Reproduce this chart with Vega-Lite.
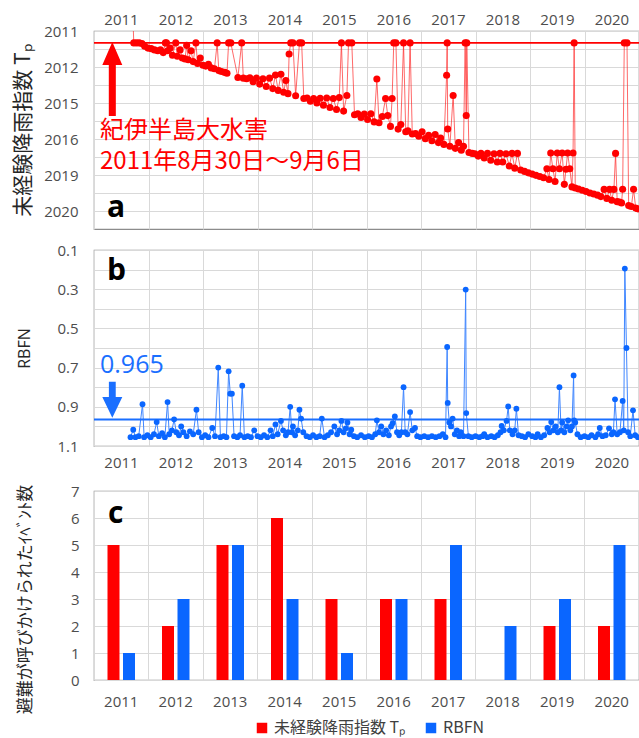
{
  "$schema": "https://vega.github.io/schema/vega-lite/v6.json",
  "background": "white",
  "padding": {"left": 12, "top": 11, "right": 0, "bottom": 8},
  "spacing": 12,
  "config": {
    "font": "Open Sans",
    "view": {"stroke": "#8c8c8c", "strokeWidth": 1.2},
    "axis": {
      "labelFont": "Open Sans",
      "labelFontSize": 15,
      "labelColor": "#4d4d4d",
      "titleFont": "Noto Sans CJK JP",
      "titleFontWeight": "normal",
      "titleColor": "#262626",
      "gridColor": "#d9d9d9",
      "gridWidth": 1,
      "ticks": false,
      "domain": false,
      "labelOverlap": false
    }
  },
  "datasets": {
    "tp": [
      {"t":2011.72,"tp":2010.80},{"t":2011.73,"tp":2011.66},{"t":2011.78,"tp":2011.66},{"t":2011.83,"tp":2011.66},{"t":2011.88,"tp":2011.70},
      {"t":2011.93,"tp":2011.85},{"t":2011.99,"tp":2011.95},{"t":2012.05,"tp":2011.98},{"t":2012.11,"tp":2012.05},{"t":2012.17,"tp":2012.10},
      {"t":2012.22,"tp":2012.05},{"t":2012.27,"tp":2012.20},{"t":2012.31,"tp":2011.66},{"t":2012.33,"tp":2011.66},{"t":2012.35,"tp":2012.10},
      {"t":2012.40,"tp":2011.95},{"t":2012.44,"tp":2012.35},{"t":2012.50,"tp":2011.66},{"t":2012.53,"tp":2012.40},{"t":2012.58,"tp":2012.05},
      {"t":2012.62,"tp":2012.50},{"t":2012.67,"tp":2012.55},{"t":2012.70,"tp":2011.80},{"t":2012.73,"tp":2012.60},{"t":2012.78,"tp":2012.10},
      {"t":2012.82,"tp":2012.70},{"t":2012.87,"tp":2011.66},{"t":2012.90,"tp":2012.80},{"t":2012.95,"tp":2012.50},{"t":2013.00,"tp":2012.90},
      {"t":2013.05,"tp":2012.95},{"t":2013.10,"tp":2012.85},{"t":2013.15,"tp":2013.05},{"t":2013.21,"tp":2013.10},{"t":2013.26,"tp":2011.66},
      {"t":2013.29,"tp":2013.20},{"t":2013.34,"tp":2013.25},{"t":2013.40,"tp":2013.30},{"t":2013.44,"tp":2013.35},{"t":2013.47,"tp":2011.66},
      {"t":2013.51,"tp":2011.66},{"t":2013.64,"tp":2013.58},{"t":2013.71,"tp":2011.66},{"t":2013.74,"tp":2013.62},{"t":2013.80,"tp":2013.65},
      {"t":2013.86,"tp":2013.60},{"t":2013.92,"tp":2013.82},{"t":2013.98,"tp":2013.62},{"t":2014.04,"tp":2013.95},{"t":2014.10,"tp":2013.65},
      {"t":2014.16,"tp":2014.08},{"t":2014.22,"tp":2013.62},{"t":2014.28,"tp":2014.20},{"t":2014.33,"tp":2013.45},{"t":2014.38,"tp":2014.30},
      {"t":2014.43,"tp":2013.40},{"t":2014.48,"tp":2014.40},{"t":2014.52,"tp":2013.75},{"t":2014.56,"tp":2014.48},{"t":2014.58,"tp":2012.28},
      {"t":2014.61,"tp":2011.66},{"t":2014.65,"tp":2011.66},{"t":2014.70,"tp":2014.60},{"t":2014.77,"tp":2011.66},{"t":2014.81,"tp":2011.66},
      {"t":2014.85,"tp":2014.75},{"t":2014.91,"tp":2014.72},{"t":2014.97,"tp":2014.90},{"t":2015.03,"tp":2014.75},{"t":2015.09,"tp":2015.00},
      {"t":2015.15,"tp":2014.74},{"t":2015.21,"tp":2015.12},{"t":2015.27,"tp":2014.72},{"t":2015.33,"tp":2015.25},{"t":2015.39,"tp":2014.75},
      {"t":2015.45,"tp":2015.36},{"t":2015.50,"tp":2014.70},{"t":2015.54,"tp":2011.66},{"t":2015.58,"tp":2015.45},{"t":2015.64,"tp":2014.58},
      {"t":2015.67,"tp":2011.66},{"t":2015.73,"tp":2011.66},{"t":2015.78,"tp":2015.65},{"t":2015.84,"tp":2015.60},{"t":2015.90,"tp":2015.80},
      {"t":2015.96,"tp":2015.62},{"t":2016.02,"tp":2015.92},{"t":2016.08,"tp":2015.60},{"t":2016.14,"tp":2016.05},{"t":2016.19,"tp":2013.67},
      {"t":2016.23,"tp":2016.10},{"t":2016.29,"tp":2015.75},{"t":2016.35,"tp":2014.75},{"t":2016.39,"tp":2015.70},{"t":2016.44,"tp":2016.30},
      {"t":2016.47,"tp":2014.75},{"t":2016.50,"tp":2011.66},{"t":2016.54,"tp":2011.66},{"t":2016.58,"tp":2016.45},{"t":2016.63,"tp":2016.20},
      {"t":2016.68,"tp":2011.66},{"t":2016.72,"tp":2016.60},{"t":2016.76,"tp":2016.55},{"t":2016.80,"tp":2011.66},{"t":2016.84,"tp":2016.72},
      {"t":2016.90,"tp":2016.70},{"t":2016.96,"tp":2016.85},{"t":2017.02,"tp":2016.60},{"t":2017.08,"tp":2016.98},{"t":2017.14,"tp":2016.80},
      {"t":2017.20,"tp":2017.10},{"t":2017.26,"tp":2016.75},{"t":2017.32,"tp":2017.20},{"t":2017.36,"tp":2016.95},{"t":2017.42,"tp":2017.30},
      {"t":2017.47,"tp":2013.46},{"t":2017.48,"tp":2011.66},{"t":2017.49,"tp":2016.44},{"t":2017.53,"tp":2017.40},{"t":2017.59,"tp":2014.58},
      {"t":2017.63,"tp":2017.52},{"t":2017.69,"tp":2017.20},{"t":2017.74,"tp":2017.62},{"t":2017.78,"tp":2017.40},{"t":2017.81,"tp":2011.66},
      {"t":2017.83,"tp":2015.70},{"t":2017.84,"tp":2011.66},{"t":2017.88,"tp":2017.75},{"t":2017.94,"tp":2017.80},{"t":2017.99,"tp":2017.82},
      {"t":2018.05,"tp":2017.95},{"t":2018.10,"tp":2017.80},{"t":2018.16,"tp":2018.06},{"t":2018.22,"tp":2017.80},{"t":2018.28,"tp":2018.18},
      {"t":2018.34,"tp":2017.82},{"t":2018.40,"tp":2018.28},{"t":2018.45,"tp":2017.80},{"t":2018.50,"tp":2018.28},{"t":2018.56,"tp":2017.82},
      {"t":2018.62,"tp":2018.50},{"t":2018.67,"tp":2017.80},{"t":2018.72,"tp":2018.62},{"t":2018.77,"tp":2017.80},{"t":2018.83,"tp":2018.72},
      {"t":2018.90,"tp":2018.80},{"t":2018.97,"tp":2018.88},{"t":2019.04,"tp":2018.95},{"t":2019.11,"tp":2019.02},{"t":2019.18,"tp":2019.08},
      {"t":2019.25,"tp":2019.15},{"t":2019.31,"tp":2018.65},{"t":2019.35,"tp":2019.25},{"t":2019.38,"tp":2017.78},{"t":2019.42,"tp":2018.65},
      {"t":2019.46,"tp":2019.36},{"t":2019.50,"tp":2017.78},{"t":2019.54,"tp":2018.65},{"t":2019.59,"tp":2017.78},{"t":2019.63,"tp":2019.52},
      {"t":2019.66,"tp":2018.68},{"t":2019.69,"tp":2017.78},{"t":2019.73,"tp":2018.65},{"t":2019.77,"tp":2019.66},{"t":2019.79,"tp":2017.78},
      {"t":2019.81,"tp":2011.66},{"t":2019.83,"tp":2019.72},{"t":2019.89,"tp":2019.78},{"t":2019.96,"tp":2019.85},{"t":2020.03,"tp":2019.92},
      {"t":2020.10,"tp":2020.00},{"t":2020.17,"tp":2020.06},{"t":2020.24,"tp":2020.12},{"t":2020.30,"tp":2020.20},{"t":2020.36,"tp":2019.80},
      {"t":2020.41,"tp":2020.30},{"t":2020.46,"tp":2019.80},{"t":2020.50,"tp":2020.40},{"t":2020.54,"tp":2019.80},{"t":2020.57,"tp":2017.80},
      {"t":2020.60,"tp":2020.48},{"t":2020.64,"tp":2020.50},{"t":2020.68,"tp":2020.55},{"t":2020.70,"tp":2019.79},{"t":2020.73,"tp":2011.66},
      {"t":2020.78,"tp":2011.66},{"t":2020.81,"tp":2020.70},{"t":2020.86,"tp":2020.75},{"t":2020.90,"tp":2019.79},{"t":2020.94,"tp":2020.84},
      {"t":2020.98,"tp":2020.88}
    ],
    "rb": [
      {"t":2011.67,"v":1.055},{"t":2011.72,"v":1.017},{"t":2011.76,"v":1.055},{"t":2011.82,"v":1.05},{"t":2011.89,"v":0.887},
      {"t":2011.92,"v":1.055},{"t":2011.98,"v":1.045},{"t":2012.04,"v":1.055},{"t":2012.10,"v":1.04},{"t":2012.15,"v":0.978},
      {"t":2012.19,"v":1.05},{"t":2012.25,"v":1.035},{"t":2012.30,"v":1.055},{"t":2012.35,"v":0.876},{"t":2012.38,"v":1.04},
      {"t":2012.43,"v":1.02},{"t":2012.47,"v":0.964},{"t":2012.51,"v":1.03},{"t":2012.56,"v":1.045},{"t":2012.60,"v":1.0},
      {"t":2012.64,"v":1.03},{"t":2012.70,"v":1.05},{"t":2012.76,"v":1.025},{"t":2012.82,"v":1.04},{"t":2012.88,"v":0.915},
      {"t":2012.92,"v":1.03},{"t":2012.98,"v":1.055},{"t":2013.04,"v":1.045},{"t":2013.10,"v":1.055},{"t":2013.17,"v":1.008},
      {"t":2013.22,"v":1.05},{"t":2013.28,"v":0.70},{"t":2013.32,"v":1.055},{"t":2013.38,"v":1.05},{"t":2013.43,"v":1.055},
      {"t":2013.47,"v":0.719},{"t":2013.50,"v":0.833},{"t":2013.53,"v":0.833},{"t":2013.57,"v":1.05},{"t":2013.63,"v":1.055},
      {"t":2013.68,"v":1.045},{"t":2013.72,"v":0.792},{"t":2013.76,"v":1.055},{"t":2013.82,"v":1.05},{"t":2013.88,"v":1.055},
      {"t":2013.94,"v":1.02},{"t":2014.00,"v":1.05},{"t":2014.06,"v":1.055},{"t":2014.12,"v":1.045},{"t":2014.18,"v":1.055},
      {"t":2014.24,"v":1.02},{"t":2014.28,"v":1.05},{"t":2014.33,"v":0.99},{"t":2014.37,"v":1.04},{"t":2014.43,"v":0.972},
      {"t":2014.47,"v":1.02},{"t":2014.52,"v":1.045},{"t":2014.56,"v":1.03},{"t":2014.60,"v":0.90},{"t":2014.63,"v":1.03},
      {"t":2014.65,"v":1.0},{"t":2014.69,"v":1.045},{"t":2014.74,"v":1.02},{"t":2014.77,"v":0.915},{"t":2014.80,"v":0.96},
      {"t":2014.84,"v":1.03},{"t":2014.90,"v":1.05},{"t":2014.96,"v":1.055},{"t":2015.02,"v":1.045},{"t":2015.08,"v":1.055},
      {"t":2015.14,"v":1.05},{"t":2015.18,"v":0.96},{"t":2015.23,"v":1.055},{"t":2015.29,"v":1.045},{"t":2015.35,"v":1.03},
      {"t":2015.41,"v":1.0},{"t":2015.46,"v":1.04},{"t":2015.50,"v":1.02},{"t":2015.54,"v":0.972},{"t":2015.58,"v":1.03},
      {"t":2015.62,"v":1.01},{"t":2015.65,"v":0.98},{"t":2015.69,"v":1.04},{"t":2015.72,"v":1.017},{"t":2015.77,"v":1.05},
      {"t":2015.83,"v":1.055},{"t":2015.90,"v":1.045},{"t":2015.97,"v":1.055},{"t":2016.04,"v":1.05},{"t":2016.10,"v":1.055},
      {"t":2016.16,"v":1.04},{"t":2016.19,"v":0.969},{"t":2016.23,"v":1.03},{"t":2016.27,"v":1.0},{"t":2016.31,"v":1.04},
      {"t":2016.36,"v":1.02},{"t":2016.41,"v":1.045},{"t":2016.45,"v":1.0},{"t":2016.48,"v":0.984},{"t":2016.52,"v":0.949},
      {"t":2016.56,"v":1.03},{"t":2016.60,"v":1.045},{"t":2016.64,"v":1.03},{"t":2016.68,"v":0.80},{"t":2016.71,"v":1.03},
      {"t":2016.75,"v":1.04},{"t":2016.80,"v":0.927},{"t":2016.84,"v":1.02},{"t":2016.89,"v":1.008},{"t":2016.93,"v":1.05},
      {"t":2016.99,"v":1.055},{"t":2017.06,"v":1.05},{"t":2017.13,"v":1.055},{"t":2017.20,"v":1.05},{"t":2017.27,"v":1.055},
      {"t":2017.34,"v":1.05},{"t":2017.40,"v":1.04},{"t":2017.45,"v":1.055},{"t":2017.48,"v":0.595},{"t":2017.49,"v":0.88},
      {"t":2017.52,"v":0.98},{"t":2017.55,"v":1.0},{"t":2017.58,"v":0.96},{"t":2017.62,"v":1.04},{"t":2017.66,"v":1.02},
      {"t":2017.70,"v":1.05},{"t":2017.73,"v":1.03},{"t":2017.78,"v":1.05},{"t":2017.82,"v":0.302},{"t":2017.83,"v":0.932},
      {"t":2017.87,"v":1.05},{"t":2017.93,"v":1.055},{"t":2018.00,"v":1.05},{"t":2018.07,"v":1.055},{"t":2018.13,"v":1.05},
      {"t":2018.16,"v":1.04},{"t":2018.22,"v":1.055},{"t":2018.29,"v":1.05},{"t":2018.35,"v":1.055},{"t":2018.41,"v":1.045},
      {"t":2018.46,"v":1.03},{"t":2018.48,"v":0.998},{"t":2018.52,"v":1.02},{"t":2018.57,"v":0.972},{"t":2018.60,"v":0.898},
      {"t":2018.63,"v":1.02},{"t":2018.68,"v":1.04},{"t":2018.72,"v":1.02},{"t":2018.75,"v":0.91},{"t":2018.79,"v":1.045},
      {"t":2018.85,"v":1.05},{"t":2018.91,"v":1.055},{"t":2018.97,"v":1.04},{"t":2019.04,"v":1.05},{"t":2019.10,"v":1.055},
      {"t":2019.14,"v":1.04},{"t":2019.20,"v":1.055},{"t":2019.26,"v":1.045},{"t":2019.32,"v":1.008},{"t":2019.36,"v":1.03},
      {"t":2019.39,"v":0.978},{"t":2019.43,"v":1.02},{"t":2019.47,"v":1.0},{"t":2019.51,"v":1.03},{"t":2019.54,"v":0.80},
      {"t":2019.57,"v":1.02},{"t":2019.59,"v":0.98},{"t":2019.63,"v":1.03},{"t":2019.67,"v":1.0},{"t":2019.70,"v":0.969},
      {"t":2019.74,"v":1.02},{"t":2019.77,"v":1.0},{"t":2019.80,"v":0.74},{"t":2019.81,"v":0.969},{"t":2019.83,"v":0.98},
      {"t":2019.87,"v":1.04},{"t":2019.93,"v":1.055},{"t":2020.00,"v":1.05},{"t":2020.07,"v":1.055},{"t":2020.13,"v":1.045},
      {"t":2020.20,"v":1.055},{"t":2020.25,"v":1.04},{"t":2020.28,"v":1.008},{"t":2020.33,"v":1.05},{"t":2020.39,"v":1.045},
      {"t":2020.45,"v":1.01},{"t":2020.50,"v":1.04},{"t":2020.53,"v":1.03},{"t":2020.56,"v":0.862},{"t":2020.60,"v":1.04},
      {"t":2020.65,"v":1.03},{"t":2020.70,"v":0.870},{"t":2020.72,"v":1.02},{"t":2020.74,"v":0.195},{"t":2020.77,"v":0.60},
      {"t":2020.80,"v":1.03},{"t":2020.84,"v":1.05},{"t":2020.89,"v":0.918},{"t":2020.93,"v":1.045},{"t":2020.98,"v":1.055}
    ],
    "bars": [
      {"year":"2011","series":"未経験降雨指数 Tₚ","count":5},{"year":"2011","series":"RBFN","count":1},
      {"year":"2012","series":"未経験降雨指数 Tₚ","count":2},{"year":"2012","series":"RBFN","count":3},
      {"year":"2013","series":"未経験降雨指数 Tₚ","count":5},{"year":"2013","series":"RBFN","count":5},
      {"year":"2014","series":"未経験降雨指数 Tₚ","count":6},{"year":"2014","series":"RBFN","count":3},
      {"year":"2015","series":"未経験降雨指数 Tₚ","count":3},{"year":"2015","series":"RBFN","count":1},
      {"year":"2016","series":"未経験降雨指数 Tₚ","count":3},{"year":"2016","series":"RBFN","count":3},
      {"year":"2017","series":"未経験降雨指数 Tₚ","count":3},{"year":"2017","series":"RBFN","count":5},
      {"year":"2018","series":"未経験降雨指数 Tₚ","count":0},{"year":"2018","series":"RBFN","count":2},
      {"year":"2019","series":"未経験降雨指数 Tₚ","count":2},{"year":"2019","series":"RBFN","count":3},
      {"year":"2020","series":"未経験降雨指数 Tₚ","count":2},{"year":"2020","series":"RBFN","count":5}
    ]
  },
  "vconcat": [
    {
      "width": 545,
      "height": 198,
      "layer": [
        {
          "data": {"name": "tp"},
          "mark": {"type": "line", "color": "#ff2020", "strokeWidth": 0.9, "opacity": 0.75, "clip": true},
          "encoding": {
            "x": {"field": "t", "type": "quantitative",
                  "scale": {"domain": [2011, 2021], "nice": false, "zero": false},
                  "axis": {"orient": "top", "title": null, "values": [2011,2012,2013,2014,2015,2016,2017,2018,2019,2020], "tickCount": 20,
                           "format": "d", "labelOffset": 27, "labelPadding": 4, "labelFlush": false, "labelOverlap": false, "grid": true}},
            "y": {"field": "tp", "type": "quantitative",
                  "scale": {"domain": [2011, 2022], "nice": false, "zero": false, "reverse": true},
                  "axis": {"title": "未経験降雨指数 Tₚ", "titleFontSize": 21, "titlePadding": 10, "tickCount": 20,
                           "values": [2011,2012,2013,2014,2015,2016,2017,2018,2019,2020,2021],
                           "labelExpr": "datum.value == 2011 ? '2011' : datum.value == 2013 ? '2012' : datum.value == 2015 ? '2015' : datum.value == 2017 ? '2016' : datum.value == 2019 ? '2019' : datum.value == 2021 ? '2020' : ''",
                           "labelPadding": 16, "labelOverlap": false, "labelFlush": false, "grid": true}}
          }
        },
        {
          "data": {"values": [{"tp": 2011.66}]},
          "mark": {"type": "rule", "color": "#ff0000", "strokeWidth": 1.6},
          "encoding": {"y": {"field": "tp", "type": "quantitative"}}
        },
        {
          "data": {"name": "tp"},
          "mark": {"type": "circle", "color": "#ff0000", "size": 50, "opacity": 1, "clip": true},
          "encoding": {
            "x": {"field": "t", "type": "quantitative"},
            "y": {"field": "tp", "type": "quantitative"}
          }
        },
        {
          "data": {"values": [{"t": 2011.336, "tp": 2013.67}]},
          "mark": {"type": "point", "filled": true, "color": "#ff0000", "opacity": 1, "size": 5476,
                   "shape": "M0,-1L0.27,-0.378L0.095,-0.378L0.095,1L-0.095,1L-0.095,-0.378L-0.27,-0.378Z"},
          "encoding": {
            "x": {"field": "t", "type": "quantitative"},
            "y": {"field": "tp", "type": "quantitative"}
          }
        },
        {
          "data": {"values": [{"t": 2011.11, "tp": 2016.55, "label": "紀伊半島大水害"}, {"t": 2011.11, "tp": 2018.25, "label": "2011年8月30日〜9月6日"}]},
          "mark": {"type": "text", "align": "left", "baseline": "middle", "color": "#ff0000", "fontSize": 24, "font": "Noto Sans CJK JP"},
          "encoding": {
            "x": {"field": "t", "type": "quantitative"},
            "y": {"field": "tp", "type": "quantitative"},
            "text": {"field": "label"}
          }
        },
        {
          "data": {"values": [{"t": 2011.24, "tp": 2021.33, "label": "a"}]},
          "mark": {"type": "text", "align": "left", "baseline": "alphabetic", "color": "#000000", "fontSize": 30, "fontWeight": "bold", "font": "Open Sans"},
          "encoding": {
            "x": {"field": "t", "type": "quantitative"},
            "y": {"field": "tp", "type": "quantitative"},
            "text": {"field": "label"}
          }
        }
      ]
    },
    {
      "width": 545,
      "height": 196,
      "layer": [
        {
          "data": {"name": "rb"},
          "mark": {"type": "line", "color": "#3f86ff", "strokeWidth": 1, "clip": true},
          "encoding": {
            "x": {"field": "t", "type": "quantitative",
                  "scale": {"domain": [2011, 2021], "nice": false, "zero": false},
                  "axis": {"orient": "bottom", "title": null, "values": [2011,2012,2013,2014,2015,2016,2017,2018,2019,2020], "tickCount": 20,
                           "format": "d", "labelOffset": 27, "labelPadding": 9, "labelFlush": false, "labelOverlap": false, "grid": true}},
            "y": {"field": "v", "type": "quantitative",
                  "scale": {"domain": [0.1, 1.1], "nice": false, "zero": false, "reverse": true},
                  "axis": {"title": "RBFN", "titleFont": "Open Sans", "titleFontSize": 16, "titlePadding": 24, "tickCount": 20,
                           "values": [0.1,0.2,0.3,0.4,0.5,0.6,0.7,0.8,0.9,1.0,1.1],
                           "labelExpr": "indexof(['0.1','0.3','0.5','0.7','0.9','1.1'], format(datum.value, '.1f')) >= 0 ? format(datum.value, '.1f') : ''",
                           "labelPadding": 16, "labelOverlap": false, "labelFlush": false, "grid": true}}
          }
        },
        {
          "data": {"values": [{"v": 0.965}]},
          "mark": {"type": "rule", "color": "#1a6fff", "strokeWidth": 2},
          "encoding": {"y": {"field": "v", "type": "quantitative"}}
        },
        {
          "data": {"name": "rb"},
          "mark": {"type": "circle", "color": "#0a66ff", "size": 34, "opacity": 1, "clip": true},
          "encoding": {
            "x": {"field": "t", "type": "quantitative"},
            "y": {"field": "v", "type": "quantitative"}
          }
        },
        {
          "data": {"values": [{"t": 2011.336, "v": 0.864}]},
          "mark": {"type": "point", "filled": true, "color": "#1a6fff", "opacity": 1, "size": 1296,
                   "shape": "M0,1L0.556,-0.15L0.19,-0.15L0.19,-1L-0.19,-1L-0.19,-0.15L-0.556,-0.15Z"},
          "encoding": {
            "x": {"field": "t", "type": "quantitative"},
            "y": {"field": "v", "type": "quantitative"}
          }
        },
        {
          "data": {"values": [{"t": 2011.11, "v": 0.689, "label": "0.965"}]},
          "mark": {"type": "text", "align": "left", "baseline": "middle", "color": "#1a6fff", "fontSize": 25, "font": "Open Sans"},
          "encoding": {
            "x": {"field": "t", "type": "quantitative"},
            "y": {"field": "v", "type": "quantitative"},
            "text": {"field": "label"}
          }
        },
        {
          "data": {"values": [{"t": 2011.24, "v": 0.253, "label": "b"}]},
          "mark": {"type": "text", "align": "left", "baseline": "alphabetic", "color": "#000000", "fontSize": 30, "fontWeight": "bold", "font": "Open Sans"},
          "encoding": {
            "x": {"field": "t", "type": "quantitative"},
            "y": {"field": "v", "type": "quantitative"},
            "text": {"field": "label"}
          }
        }
      ]
    },
    {
      "width": 545,
      "height": 189,
      "layer": [
        {
          "data": {"name": "bars"},
          "mark": {"type": "bar"},
          "encoding": {
            "x": {"field": "year", "type": "ordinal",
                  "scale": {"paddingInner": 0, "paddingOuter": 0},
                  "axis": {"title": null, "labelAngle": 0, "bandPosition": 0, "labelPadding": 14, "grid": true, "labelFlush": false, "labelOverlap": false}},
            "xOffset": {"field": "series", "type": "nominal",
                        "scale": {"domain": ["未経験降雨指数 Tₚ", "RBFN"], "paddingInner": 0.226, "paddingOuter": 0.871}},
            "y": {"field": "count", "type": "quantitative",
                  "scale": {"domain": [0, 7], "nice": false},
                  "axis": {"title": "避難が呼びかけられたｲﾍﾞﾝﾄ数", "titleFontSize": 17, "titlePadding": 36, "titleY": 108, "tickCount": 20,
                           "values": [0,1,2,3,4,5,6,7], "format": "d", "labelPadding": 15, "grid": true, "labelOverlap": false, "labelFlush": false}},
            "color": {"field": "series", "type": "nominal",
                      "scale": {"domain": ["未経験降雨指数 Tₚ", "RBFN"], "range": ["#ff0000", "#0a66ff"]},
                      "legend": {"orient": "none", "legendX": 160, "legendY": 689, "direction": "horizontal", "title": null, "symbolType": "square",
                                 "symbolSize": 110, "symbolStrokeWidth": 0, "labelFontSize": 16, "labelFont": "Noto Sans CJK JP",
                                 "labelColor": "#404040", "columnPadding": 17}}
          }
        },
        {
          "data": {"values": [{"year": "2011", "count": 5.81, "label": "c"}]},
          "mark": {"type": "text", "align": "center", "baseline": "alphabetic", "dx": -5.5, "color": "#000000", "fontSize": 30, "fontWeight": "bold", "font": "Open Sans"},
          "encoding": {
            "x": {"field": "year", "type": "ordinal"},
            "y": {"field": "count", "type": "quantitative"},
            "text": {"field": "label"}
          }
        }
      ]
    }
  ]
}
